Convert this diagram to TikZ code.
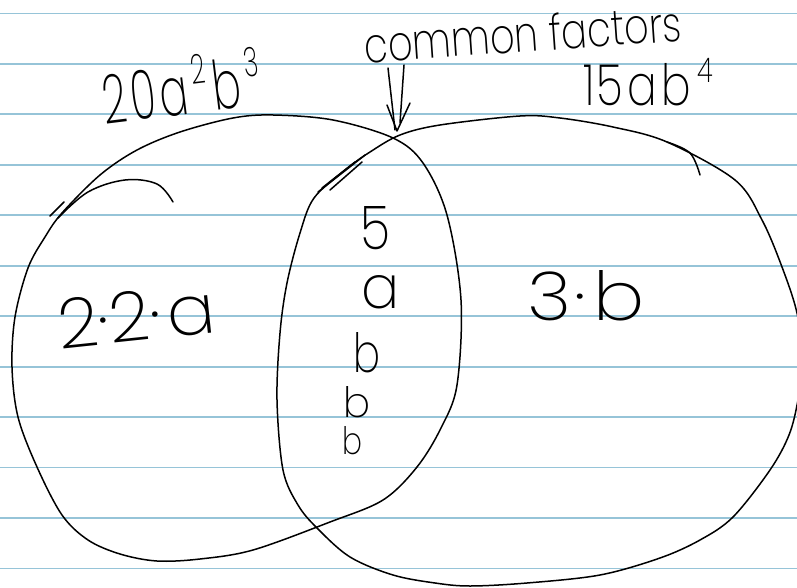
\documentclass[tikz,border=0pt]{standalone}
\usepackage{graphicx}
\usepackage{fontspec}
\IfFontExistsTF{Poppins ExtraLight}{\newfontfamily\handfont{Poppins ExtraLight}}{%
 \IfFontExistsTF{Poppins Thin}{\newfontfamily\handfont{Poppins Thin}}{%
  \IfFontExistsTF{Poppins Light}{\newfontfamily\handfont{Poppins Light}}{\newfontfamily\handfont{Poppins}}}}
\definecolor{rulecol}{RGB}{150,196,216}
\newcommand{\handbox}[3]{\resizebox{#1}{#2}{\handfont #3}}
\newcommand{\supr}[1]{\kern0.14em\raisebox{0.42em}{\scalebox{0.6}{#1}}\kern0.12em}
\begin{document}
\begin{tikzpicture}[x=1pt,y=-1pt,line cap=round,line join=round,
  rulestyle/.style={draw=rulecol,line width=1.8pt},
  pen/.style={draw=black,line width=1.5pt},
  lbl/.style={inner sep=0pt,outer sep=0pt}]
\useasboundingbox (0,0) rectangle (797,588);
\fill[white] (0,0) rectangle (797,588);
\foreach \k in {0,...,11}{\draw[rulestyle] (0,{13.5+50.45*\k}) -- (797,{13.5+50.45*\k});}

% left set (20a^2b^3)
\draw[pen] plot[smooth cycle,tension=0.55] coordinates {
 (273,115) (333,120) (393,138) (423,163) (447,215) (461,300) (457,385) (441,428)
 (417,467) (383,500) (330,522) (253,550) (200,559) (157,561) (120,554) (88,540)
 (62,515) (37,467) (18,417) (12,367) (15,317) (28,268) (45,237) (62,213)
 (100,175) (137,150) (180,132) (233,118)};
\draw[pen] plot[smooth,tension=0.6] coordinates {(58,218) (88,192) (125,180) (157,184) (173,202)};
\draw[pen] (50,216) -- (64,202);

% right set (15ab^4)
\draw[pen] plot[smooth cycle,tension=0.55] coordinates {
 (400,135) (440,125) (520,116) (560,118) (613,127) (667,142) (735,180) (762,220)
 (782,267) (797,313) (803,360) (798,400) (789,435) (770,470) (733,517) (700,540)
 (660,558) (600,575) (527,583) (470,586) (435,583) (393,575) (350,557) (317,528)
 (298,505) (283,470) (277,400) (280,333) (287,283) (300,233) (314,198) (345,170)
 (370,152)};
\draw[pen] plot[smooth,tension=0.6] coordinates {(667,142) (690,153) (700,175)};
\draw[pen] (318,192) -- (365,155);
\draw[pen] (330,190) -- (362,162);
\draw[pen] (322,188) -- (355,162);

% labels
\node[lbl,anchor=base,rotate=4] (tcf) at (524,52) {\handbox{318pt}{37pt}{common factors}};
\node[lbl,anchor=base,rotate=7] (t20) at (187,114) {\handbox{165pt}{58pt}{2\kern0.1em 0\kern0.1em a\supr{2}b\supr{3}}};
\node[lbl,anchor=base west] (t15) at (583,106) {\handbox{135pt}{48pt}{1\kern0.05em 5\kern0.1em a\kern0.1em b\supr{4}}};
\node[lbl,anchor=base,rotate=6] (tl) at (139,341) {\handbox{158pt}{50pt}{2·2·\kern0.1em a}};
\node[lbl,anchor=base west] (tr) at (527,320) {\handbox{118pt}{50pt}{3\kern0.05em·\kern0.1em b}};
\node[lbl] (c5) at (375,228) {\handbox{30pt}{43pt}{5}};
\node[lbl] (ca) at (381,292) {\handbox{38pt}{33pt}{a}};
\node[lbl] (cb1) at (367,353) {\handbox{27pt}{40pt}{b}};
\node[lbl] (cb2) at (357,402) {\handbox{27pt}{31pt}{b}};
\node[lbl] (cb3) at (352,441) {\handbox{20pt}{28pt}{b}};

% arrow
\coordinate (sh1a) at (388,68);
\coordinate (sh1b) at (395,130);
\coordinate (sh2a) at (404,65);
\coordinate (sh2b) at (400,123);
\coordinate (hdL) at (387,105);
\coordinate (hdR) at (410,103);
\coordinate (tip) at (397,131);
\draw[pen] (sh1a) -- (sh1b);
\draw[pen] (sh2a) -- (sh2b);
\draw[pen] (hdL) -- (tip) -- (hdR);
\end{tikzpicture}
\end{document}
